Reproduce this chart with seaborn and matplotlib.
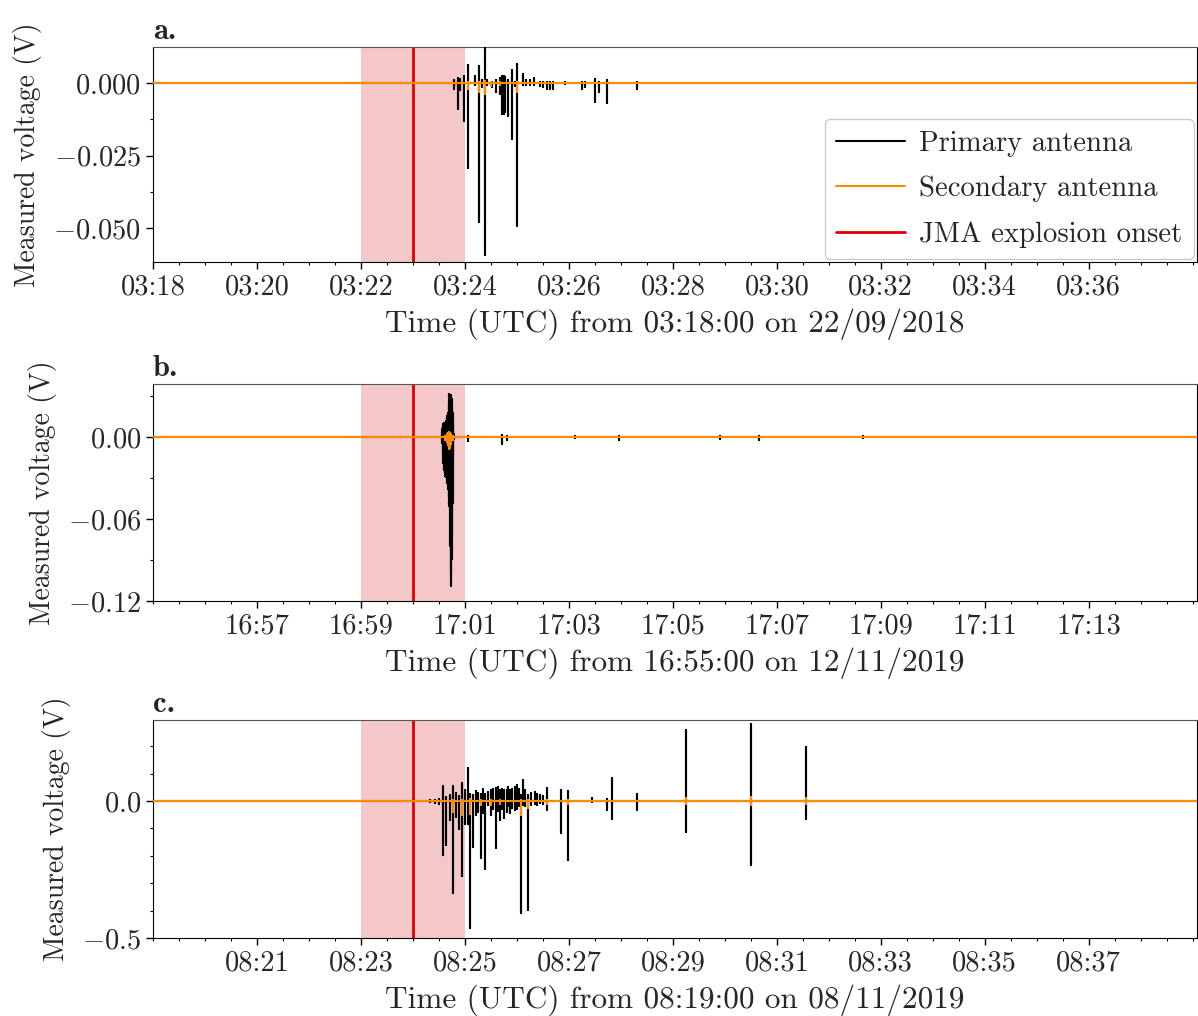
import pandas as pd
import seaborn as sns
import matplotlib.pyplot as plt
import matplotlib.dates as mdates
import matplotlib.ticker as mticker
from matplotlib.lines import Line2D

sns.set_style('ticks')
plt.rcParams['font.family'] = 'serif'
plt.rcParams['font.serif'] = ['cmr10']
plt.rcParams['mathtext.fontset'] = 'cm'
plt.rcParams['axes.formatter.use_mathtext'] = True
plt.rcParams['axes.unicode_minus'] = True

# --- data (seconds after the panel start, volts) ---
# panel a: 22/09/2018 from 03:18:00
a_t = [347.7, 351.5, 354.2, 358.4, 363.1, 371.5, 376.1, 380.0, 382.7, 385.8, 391.5, 395.4,
       400.0, 402.3, 404.6, 406.6, 409.2, 414.6, 417.3, 420.4, 426.5, 430.4, 435.0, 440.0,
       446.5, 450.4, 454.2, 458.1, 462.0, 475.4, 494.6, 498.5, 510.0, 514.2, 523.5, 559.2]
a_hi = [0.0009, 0.0019, 0.0015, 0.0023, 0.0061, 0.0023, 0.0060, 0.0009, 0.0119, 0.0009, 0.0003, 0.0009,
        0.0017, 0.0023, 0.0023, 0.0021, 0.0009, 0.0046, 0.0003, 0.0067, 0.0032, 0.0012, 0.0012, 0.0019,
        0.0003, 0.0003, 0.0003, 0.0003, 0.0003, 0.0003, 0.0003, 0.0003, 0.0015, 0.0003, 0.0009, 0.0003]
a_lo = [-0.0019, -0.0088, -0.0025, -0.0132, -0.0293, -0.0008, -0.0480, -0.0014, -0.0592, -0.0008, -0.0014, -0.0031,
        -0.0037, -0.0108, -0.0108, -0.0100, -0.0115, -0.0194, -0.0010, -0.0492, -0.0006, -0.0008, -0.0008, -0.0006,
        -0.0012, -0.0015, -0.0019, -0.0021, -0.0022, -0.0005, -0.0019, -0.0014, -0.0065, -0.0031, -0.0068, -0.0019]
a2_t = [350.0, 363.1, 376.1, 382.7, 390.0, 400.0, 420.4]
a2_hi = [0.0003, 0.0005, 0.0005, 0.0006, 0.0004, 0.0003, 0.0005]
a2_lo = [-0.0008, -0.0022, -0.0031, -0.0037, -0.0010, -0.0008, -0.0031]

# panel b: 12/11/2019 from 16:55:00
b_t = [333.5, 334.3, 335.0, 335.8, 336.9, 337.8, 338.9, 339.8, 340.7, 341.3, 341.9, 342.6, 343.5, 344.2,
       345.0, 345.6, 346.1, 346.7, 347.3, 363.8, 402.3, 408.1, 487.0, 537.3, 654.0, 700.0, 820.0]
b_hi = [0.0056, 0.0080, 0.0093, 0.0100, 0.0105, 0.0120, 0.0130, 0.0150, 0.0179, 0.0250, 0.0313, 0.0310, 0.0305, 0.0290,
        0.0276, 0.0230, 0.0179, 0.0090, 0.0020, 0.0005, 0.0015, 0.0005, 0.0008, 0.0004, 0.0006, 0.0005, 0.0004]
b_lo = [-0.0041, -0.0120, -0.0187, -0.0240, -0.0285, -0.0290, -0.0297, -0.0340, -0.0383, -0.0450, -0.0505, -0.0800, -0.1091, -0.1000,
        -0.0895, -0.0700, -0.0480, -0.0150, -0.0017, -0.0030, -0.0051, -0.0020, -0.0010, -0.0025, -0.0015, -0.0020, -0.0010]
b2_t = [337.0, 338.9, 340.5, 341.9, 343.0, 344.5, 346.0]
b2_hi = [0.0010, 0.0020, 0.0030, 0.0035, 0.0030, 0.0020, 0.0010]
b2_lo = [-0.0020, -0.0040, -0.0060, -0.0090, -0.0080, -0.0050, -0.0020]

# panel c: 08/11/2019 from 08:19:00
c_t = [320.0, 326.0, 330.0, 334.2, 338.1, 342.7, 346.6, 349.5, 352.7, 356.6, 360.1, 363.9, 365.4, 369.6,
       373.0, 375.5, 378.1, 380.5, 383.1, 386.9, 390.0, 393.0, 395.8, 398.0, 400.4, 403.0, 405.0, 408.2,
       410.0, 411.9, 414.5, 417.7, 420.4, 422.5, 424.2, 426.6, 429.5, 432.7, 436.0, 440.8, 443.5, 446.5,
       450.0, 454.2, 470.8, 478.8, 506.5, 523.8, 529.6, 559.2, 615.0, 690.3, 754.2]
c_hi = [0.003, 0.005, 0.008, 0.053, 0.015, 0.021, 0.053, 0.030, 0.017, 0.067, 0.039, 0.121, 0.027, 0.021,
        0.035, 0.030, 0.027, 0.045, 0.027, 0.033, 0.040, 0.045, 0.049, 0.050, 0.039, 0.045, 0.041, 0.039,
        0.050, 0.039, 0.045, 0.051, 0.057, 0.045, 0.021, 0.078, 0.040, 0.021, 0.030, 0.033, 0.025, 0.021,
        0.020, 0.049, 0.041, 0.035, 0.011, 0.008, 0.084, 0.024, 0.261, 0.280, 0.198]
c_lo = [-0.003, -0.006, -0.012, -0.197, -0.159, -0.071, -0.336, -0.060, -0.101, -0.275, -0.083, -0.083, -0.464, -0.168,
        -0.050, -0.040, -0.208, -0.045, -0.250, -0.016, -0.050, -0.030, -0.172, -0.035, -0.071, -0.030, -0.061, -0.040,
        -0.020, -0.044, -0.025, -0.034, -0.028, -0.020, -0.409, -0.016, -0.020, -0.397, -0.015, -0.010, -0.015, -0.007,
        -0.010, -0.031, -0.116, -0.214, -0.005, -0.031, -0.067, -0.034, -0.112, -0.233, -0.065]
c2_t = [346.6, 356.6, 365.4, 378.1, 390.0, 400.4, 424.2, 432.7, 454.2, 478.8, 615.0, 690.3, 754.2]
c2_hi = [0.005, 0.005, 0.008, 0.005, 0.005, 0.005, 0.005, 0.005, 0.005, 0.005, 0.010, 0.015, 0.010]
c2_lo = [-0.040, -0.052, -0.046, -0.015, -0.015, -0.012, -0.052, -0.026, -0.012, -0.010, -0.010, -0.015, -0.010]

starts = ['2018-09-22 03:18:00', '2019-11-12 16:55:00', '2019-11-08 08:19:00']
onset_min = [5, 5, 5]          # JMA explosion onset, minutes after start
first_tick_min = [0, 2, 2]
ylims = [(-0.0617, 0.0124), (-0.12, 0.0388), (-0.5, 0.296)]
ysteps = [0.025, 0.06, 0.5]
yminor = [2, 2, 5]
panel_labels = ['a.', 'b.', 'c.']
span_s = 1205


def spike_trace(t0, ts, hi, lo):
    secs, vals = [0.0], [0.0]
    for t, h, l in zip(ts, hi, lo):
        secs += [t, t, t, t]
        vals += [0.0, h, l, 0.0]
    secs.append(span_s)
    vals.append(0.0)
    return pd.DataFrame({'time': t0 + pd.to_timedelta(secs, unit='s'), 'voltage': vals})


primary = [(a_t, a_hi, a_lo), (b_t, b_hi, b_lo), (c_t, c_hi, c_lo)]
secondary = [(a2_t, a2_hi, a2_lo), (b2_t, b2_hi, b2_lo), (c2_t, c2_hi, c2_lo)]

fig, axes = plt.subplots(3, 1, figsize=(11.98, 10.16), dpi=100)
positions = [[0.1277, 0.7421, 0.8715, 0.2116],
             [0.1277, 0.4085, 0.8715, 0.2136],
             [0.1277, 0.0768, 0.8715, 0.2146]]

for i, ax in enumerate(axes):
    ax.set_position(positions[i])
    t0 = pd.Timestamp(starts[i])
    onset = t0 + pd.Timedelta(minutes=onset_min[i])
    ax.axvspan(onset - pd.Timedelta(minutes=1), onset + pd.Timedelta(minutes=1),
               color='#d62728', alpha=0.25, lw=0, zorder=1)
    ax.axvline(onset, color='#e00000', lw=2, zorder=2)

    sns.lineplot(data=spike_trace(t0, *primary[i]), x='time', y='voltage', ax=ax,
                 color='black', lw=1.5, sort=False, estimator=None, zorder=3)
    sns.lineplot(data=spike_trace(t0, *secondary[i]), x='time', y='voltage', ax=ax,
                 color='darkorange', lw=1.5, sort=False, estimator=None, zorder=4)

    ax.set_xlim(t0, t0 + pd.Timedelta(seconds=span_s))
    ax.set_ylim(*ylims[i])
    ticks = [mdates.date2num(t0 + pd.Timedelta(minutes=m)) for m in range(first_tick_min[i], 20, 2)]
    ax.xaxis.set_major_locator(mticker.FixedLocator(ticks))
    ax.xaxis.set_major_formatter(mdates.DateFormatter('%H:%M'))
    ax.xaxis.set_minor_locator(mdates.SecondLocator(bysecond=[0, 30]))
    ax.yaxis.set_major_locator(mticker.MultipleLocator(ysteps[i]))
    ax.yaxis.set_minor_locator(mticker.AutoMinorLocator(yminor[i]))

    ax.tick_params(which='major', length=5, width=1, labelsize=20.5, color='black')
    ax.tick_params(which='minor', length=2.5, width=0.8, color='black')
    ax.spines['top'].set_color('#555555')
    for s in ['left', 'bottom', 'right']:
        ax.spines[s].set_color('black')

    ax.set_ylabel('Measured voltage (V)', fontsize=20, labelpad=8)
    ax.set_xlabel('Time (UTC) from ' + t0.strftime('%H:%M:%S') + ' on ' + t0.strftime('%d/%m/%Y'),
                  fontsize=22.5, labelpad=6)
    ax.set_title(panel_labels[i], loc='left', fontsize=22, family='cmb10', pad=6)

handles = [Line2D([], [], color='black', lw=1.5), Line2D([], [], color='darkorange', lw=1.5),
           Line2D([], [], color='#e00000', lw=2)]
axes[0].legend(handles, ['Primary antenna', 'Secondary antenna', 'JMA explosion onset'],
               loc='lower right', fontsize=20.7, borderaxespad=0.1, handlelength=2.4,
               handletextpad=0.5, labelspacing=0.65, edgecolor='#cccccc', framealpha=1)

fig.savefig('out.png', dpi=100)
